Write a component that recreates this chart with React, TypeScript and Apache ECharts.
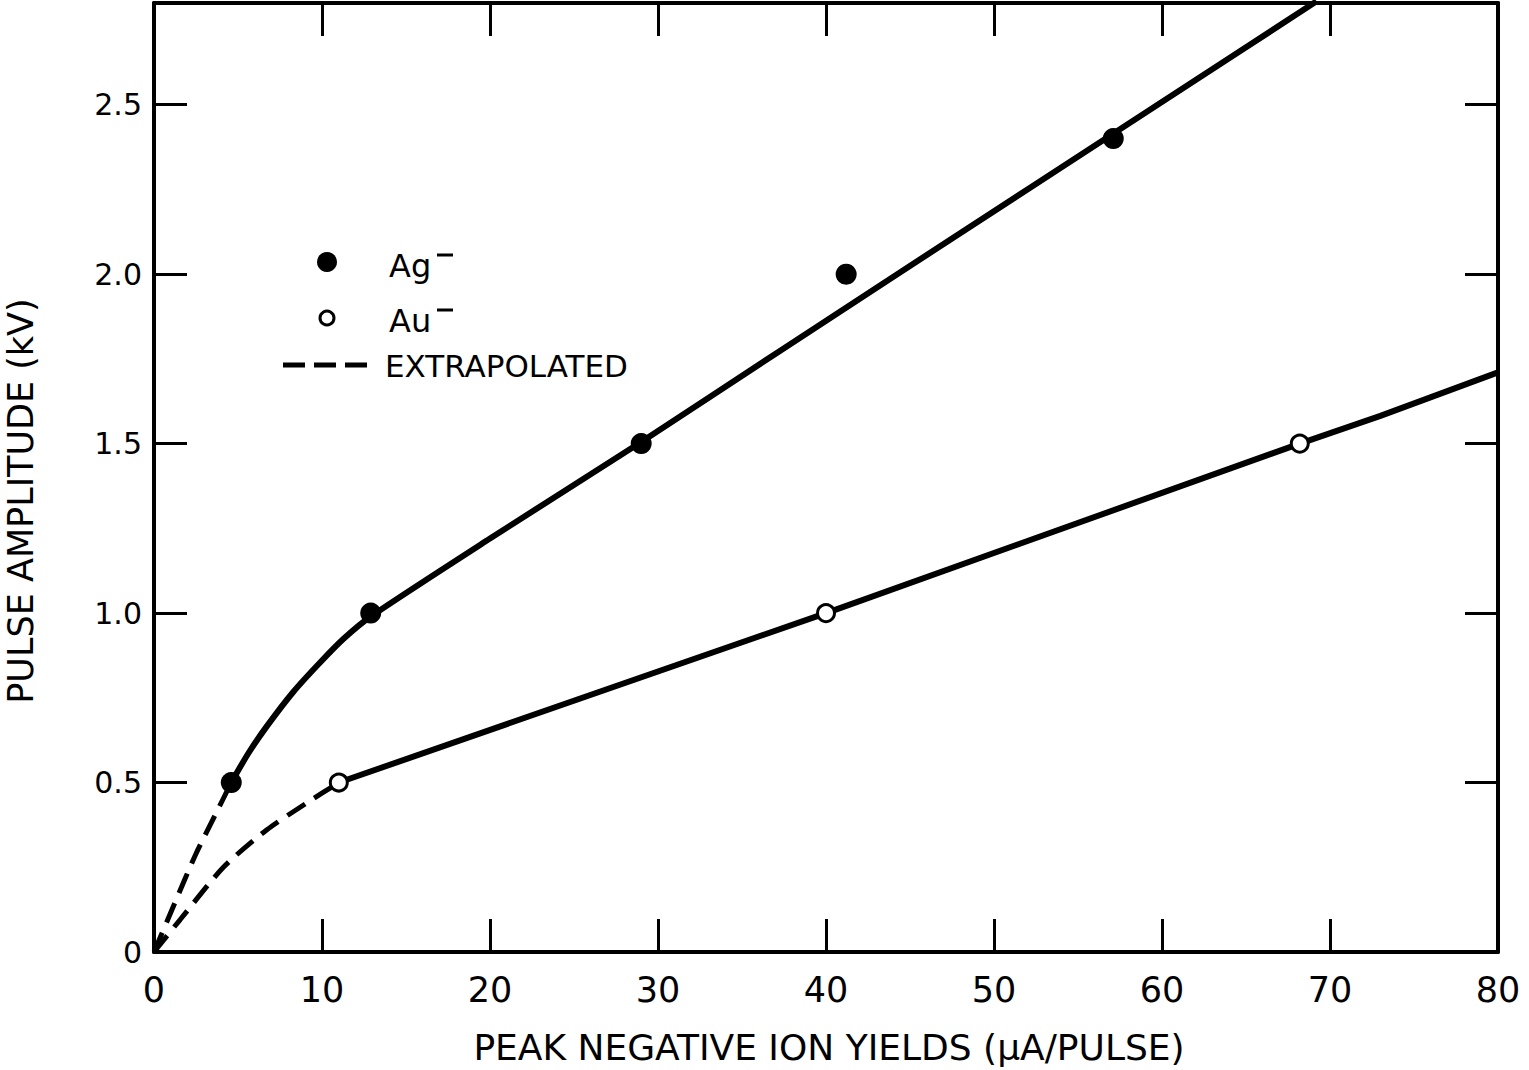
import React, { useEffect, useRef } from "react";
import * as echarts from "echarts";

// Axis ticks
const xTickValues = [0, 10, 20, 30, 40, 50, 60, 70, 80];
const yTickValues = [0, 0.5, 1.0, 1.5, 2.0, 2.5];
const yTickLabels = ["0", "0.5", "1.0", "1.5", "2.0", "2.5"];

// Measured points
const agPoints = [[4.6, 0.5], [12.9, 1.0], [29, 1.5], [41.2, 2.0], [57.1, 2.4]];
const auPoints = [[11, 0.5], [40, 1.0], [68.2, 1.5]];

// Fitted curves (solid)
const agCurve = [
  [4.6, 0.5], [5.6, 0.585], [6.7, 0.665], [8.3, 0.768], [9.9, 0.855], [11.3, 0.925],
  [12.9, 0.99], [20, 1.22], [29, 1.505], [37.3, 1.775], [44.4, 2.005], [59.9, 2.505], [69.2, 2.805],
];
const auCurve = [[11, 0.5], [40, 1.0], [68.2, 1.5], [73, 1.582], [80, 1.71]];

// Extrapolated (dashed)
const agExtrap = [[0, 0], [1.2, 0.14], [2.5, 0.29], [3.7, 0.41], [4.6, 0.5]];
const auExtrap = [[0, 0], [1.55, 0.095], [4.13, 0.25], [6.7, 0.36], [9.1, 0.44], [11, 0.5]];

const legendLabels = ["Ag", "Au", "EXTRAPOLATED"];
const xTitle = "PEAK NEGATIVE ION YIELDS (\u03bcA/PULSE)";
const yTitle = "PULSE AMPLITUDE (kV)";

const FONT = "DejaVu Sans";

export default function App() {
  const ref = useRef<HTMLDivElement>(null);
  useEffect(() => {
    document.body.style.margin = "0";
    const chart = echarts.init(ref.current!, null, { renderer: "svg" });
    const axisLine = { show: true, onZero: false, lineStyle: { color: "#000", width: 4 } };
    const tick = { show: true, inside: true, length: 33, lineStyle: { color: "#000", width: 3 } };
    const yFmt = (v: number) => {
      const i = yTickValues.indexOf(v);
      return i >= 0 ? yTickLabels[i] : "";
    };
    const xFmt = (v: number) => (xTickValues.indexOf(v) >= 0 ? String(v) : "");
    const lineBase = {
      type: "line",
      showSymbol: false,
      symbol: "none",
      silent: true,
    };
    chart.setOption({
      animation: false,
      backgroundColor: "#fff",
      grid: { left: 154, right: 31, top: 3, bottom: 118 },
      xAxis: [
        {
          type: "value", min: 0, max: 80, interval: 10, position: "bottom",
          axisLine, axisTick: tick, splitLine: { show: false },
          axisLabel: { formatter: xFmt, color: "#000", fontSize: 35, fontFamily: FONT, margin: 20 },
        },
        {
          type: "value", min: 0, max: 80, interval: 10, position: "top",
          axisLine, axisTick: tick, splitLine: { show: false }, axisLabel: { show: false },
        },
      ],
      yAxis: [
        {
          type: "value", min: 0, max: 2.8, interval: 0.5, position: "left",
          axisLine, axisTick: tick, splitLine: { show: false },
          axisLabel: { formatter: yFmt, color: "#000", fontSize: 30, fontFamily: FONT, margin: 12, showMaxLabel: false },
        },
        {
          type: "value", min: 0, max: 2.8, interval: 0.5, position: "right",
          axisLine, axisTick: tick, splitLine: { show: false }, axisLabel: { show: false },
        },
      ],
      series: [
        { ...lineBase, name: "Ag fit", data: agCurve, smooth: 0.25, lineStyle: { color: "#000", width: 6 } },
        { ...lineBase, name: "Au fit", data: auCurve, lineStyle: { color: "#000", width: 6 } },
        { ...lineBase, name: "Ag extrapolated", data: agExtrap, smooth: 0.25, lineStyle: { color: "#000", width: 5, type: [21, 11] } },
        { ...lineBase, name: "Au extrapolated", data: auExtrap, smooth: 0.25, lineStyle: { color: "#000", width: 5, type: [21, 11] } },
        {
          type: "scatter", name: "Ag", data: agPoints, symbol: "circle", symbolSize: 21,
          itemStyle: { color: "#000", opacity: 1 }, z: 5,
        },
        {
          type: "scatter", name: "Au", data: auPoints, symbol: "circle", symbolSize: 17,
          itemStyle: { color: "#fff", borderColor: "#000", borderWidth: 3, opacity: 1 }, z: 5,
        },
      ],
      graphic: [
        { type: "circle", shape: { cx: 327, cy: 262, r: 10 }, style: { fill: "#000" } },
        { type: "text", x: 389, y: 266, style: { text: legendLabels[0], font: `32px ${FONT}`, fill: "#000", textVerticalAlign: "middle" } },
        { type: "line", shape: { x1: 437, y1: 255, x2: 453, y2: 255 }, style: { stroke: "#000", lineWidth: 3 } },
        { type: "circle", shape: { cx: 327, cy: 318, r: 7 }, style: { fill: "#fff", stroke: "#000", lineWidth: 3 } },
        { type: "text", x: 389, y: 321, style: { text: legendLabels[1], font: `32px ${FONT}`, fill: "#000", textVerticalAlign: "middle" } },
        { type: "line", shape: { x1: 437, y1: 310, x2: 453, y2: 310 }, style: { stroke: "#000", lineWidth: 3 } },
        { type: "line", shape: { x1: 283, y1: 365, x2: 376, y2: 365 }, style: { stroke: "#000", lineWidth: 5, lineDash: [22, 9] } },
        { type: "text", x: 385, y: 366, style: { text: legendLabels[2], font: `31px ${FONT}`, fill: "#000", textVerticalAlign: "middle" } },
        { type: "text", x: 829, y: 1047, style: { text: xTitle, font: `36px ${FONT}`, fill: "#000", textAlign: "center", textVerticalAlign: "middle" } },
        { type: "text", x: 21, y: 501, rotation: Math.PI / 2, style: { text: yTitle, font: `35px ${FONT}`, fill: "#000", textAlign: "center", textVerticalAlign: "middle" } },
      ],
    });
    return () => chart.dispose();
  }, []);
  return <div ref={ref} style={{ width: 1529, height: 1070 }} />;
}
